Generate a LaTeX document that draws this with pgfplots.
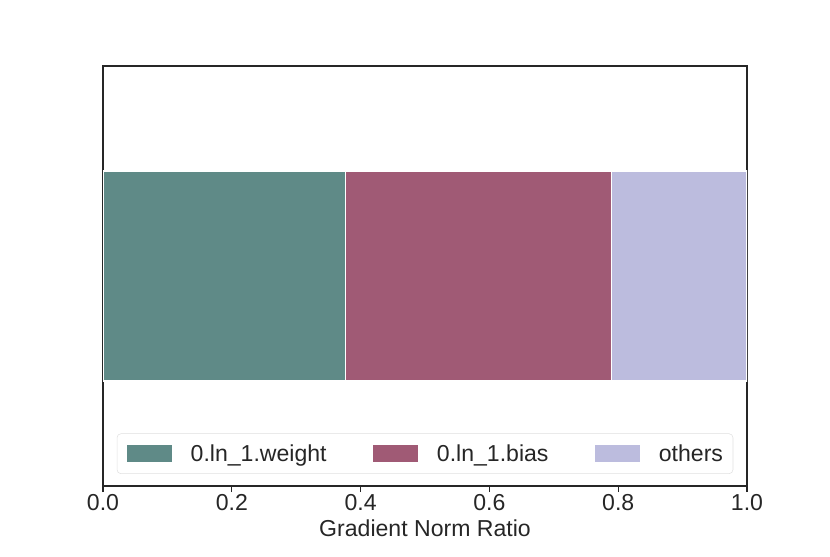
\documentclass[border=0pt]{standalone}
\usepackage{fontspec}
\setmainfont{Liberation Sans}
\usepackage{pgfplots}
\pgfplotsset{compat=1.18}
\definecolor{cA}{HTML}{5F8A87}
\definecolor{cB}{HTML}{A05A75}
\definecolor{cC}{HTML}{BCBCDE}
\definecolor{txt}{HTML}{262626}
\begin{document}
\begin{tikzpicture}
\useasboundingbox (0,0) rectangle (622.5pt,417pt);
\begin{axis}[
  at={(77.25pt,52.5pt)}, anchor=south west,
  scale only axis, width=483pt, height=315pt,
  xbar stacked,
  xmin=0, xmax=1, ymin=-0.8, ymax=0.8,
  bar width=0.8,
  ytick=\empty,
  xtick={0,0.2,0.4,0.6,0.8,1.0},
  xtick pos=bottom,
  tick align=outside,
  major tick length=4.5pt,
  tick style={line width=0.8pt, color=txt},
  axis line style={line width=0.8pt, color=txt},
  xticklabel style={/pgf/number format/.cd, fixed, fixed zerofill, precision=1, assume math mode=true},
  ticklabel style={font=\fontsize{17.3}{20}\selectfont, text=txt, yshift=1.5pt},
  xlabel={Gradient Norm Ratio},
  xlabel style={font=\fontsize{17.3}{20}\selectfont, text=txt, yshift=0pt},
  legend columns=3,
  legend style={at={(0.5,0.0286)}, anchor=south, draw=black!12, rounded corners=3pt,
    inner xsep=7.5pt, inner ysep=8pt, font=\fontsize{17.3}{20}\selectfont, text=txt,
    nodes={inner sep=0pt},
    /tikz/every odd column/.append style={column sep=14pt},
    /tikz/every even column/.append style={column sep=35pt}},
  legend image code/.code={\fill[#1,draw=none,sharp corners] (0pt,-6.4pt) rectangle (33.75pt,6.4pt);},
]
\addplot[fill=cA, draw=white, line width=0.8pt] coordinates {(0.376,0)};
\addplot[fill=cB, draw=white, line width=0.8pt] coordinates {(0.413,0)};
\addplot[fill=cC, draw=white, line width=0.8pt] coordinates {(0.211,0)};
\legend{0.ln\_1.weight, 0.ln\_1.bias, others}
\end{axis}
\end{tikzpicture}
\end{document}
